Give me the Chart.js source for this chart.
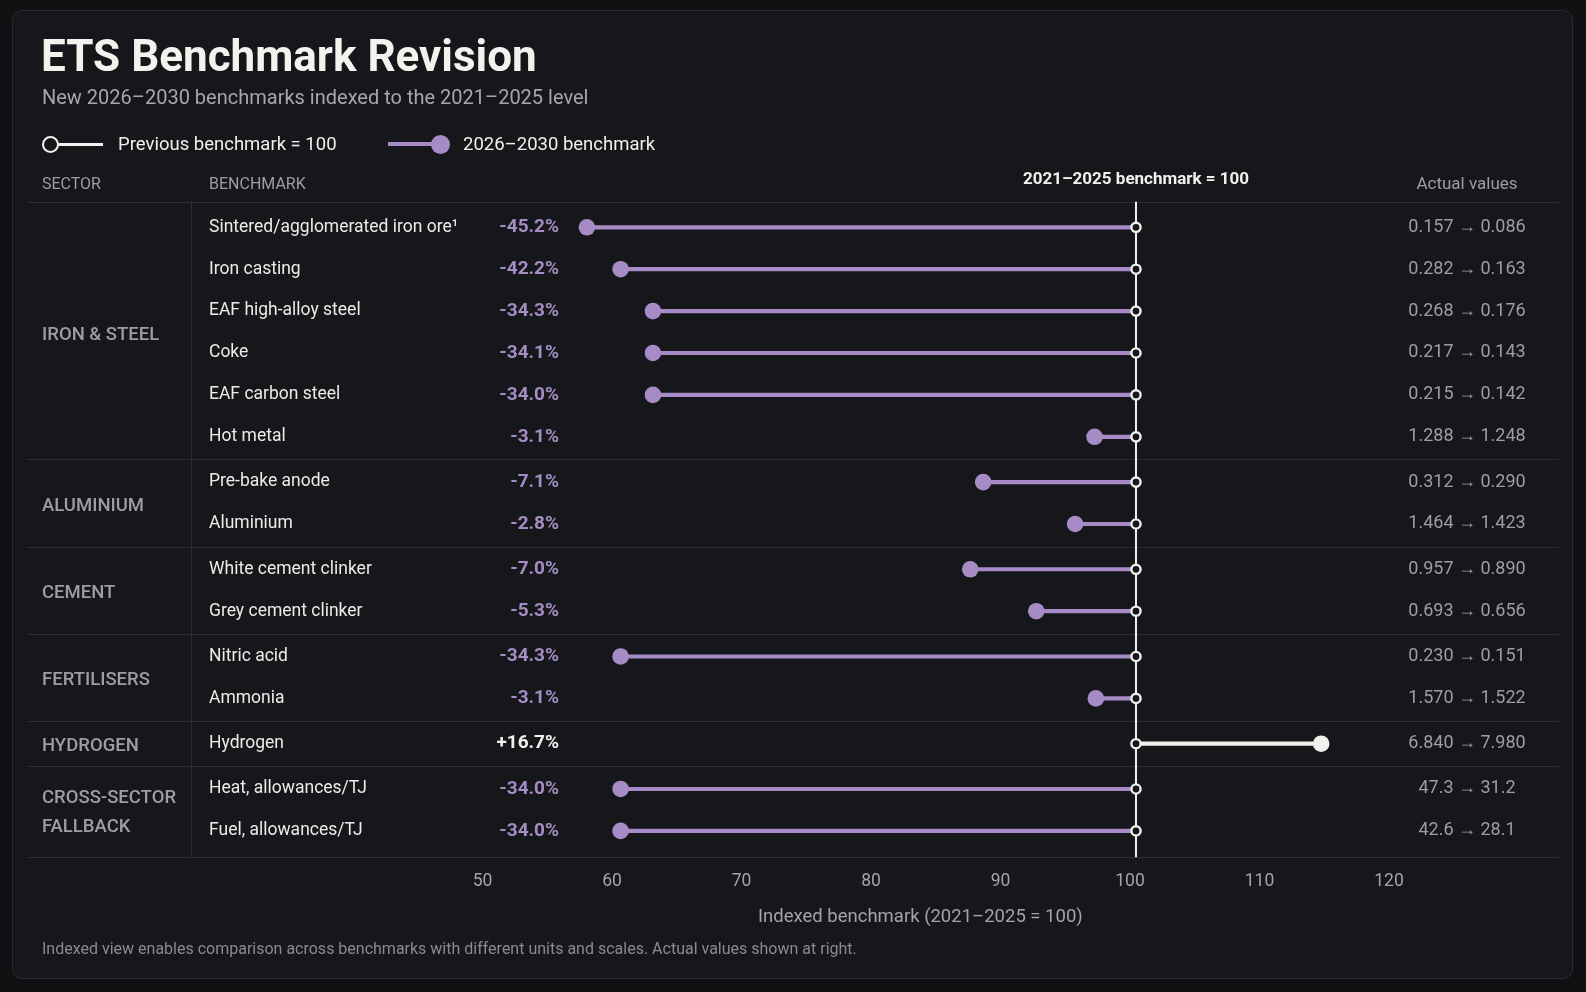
<!DOCTYPE html>
<html>
<head>
<meta charset="utf-8">
<title>ETS Benchmark Revision</title>
<script src="https://cdn.jsdelivr.net/npm/chart.js@4.4.1/dist/chart.umd.min.js"></script>
<style>
  html, body { margin: 0; padding: 0; background: #101113; }
  body { width: 1586px; height: 992px; position: relative; overflow: hidden; font-family: Roboto, 'Noto Sans', sans-serif; }
  .card { position: absolute; left: 12px; top: 10px; width: 1561px; height: 969px; box-sizing: border-box;
          background: #16171a; border: 1px solid #2a2b2f; border-radius: 10px; }
  #chart { position: absolute; left: 0; top: 0; }
  .txt { position: absolute; white-space: nowrap; }
  .title { left: 41px; top: 30px; font-size: 44px; line-height: 52px; font-weight: 700; color: #f3f3ee; }
  .subtitle { left: 42px; top: 85px; font-size: 20px; line-height: 24px; color: #a6a6ac; }
  .legend-text { top: 132px; font-size: 18.5px; line-height: 24px; color: #f0f0ec; }
  .footnote { left: 42px; top: 939px; font-size: 16px; line-height: 20px; color: #8a8a90; }
  .lg-line { position: absolute; }
  .lg-dot { position: absolute; border-radius: 50%; box-sizing: border-box; }
</style>
</head>
<body>
<div class="card"></div>
<canvas id="chart" width="1586" height="992"></canvas>

<div class="txt title">ETS Benchmark Revision</div>
<div class="txt subtitle">New 2026–2030 benchmarks indexed to the 2021–2025 level</div>

<div class="lg-line" style="left:56px; top:142.5px; width:47px; height:3px; background:#f0f0ec;"></div>
<div class="lg-dot" style="left:42px; top:136px; width:17px; height:17px; border:2.5px solid #f0f0ec; background:#16171a;"></div>
<div class="txt legend-text" style="left:118px;">Previous benchmark = 100</div>
<div class="lg-line" style="left:388px; top:142px; width:46px; height:4px; background:#a68bc6;"></div>
<div class="lg-dot" style="left:431px; top:134.5px; width:19px; height:19px; background:#a68bc6;"></div>
<div class="txt legend-text" style="left:463px;">2026–2030 benchmark</div>

<div class="txt footnote">Indexed view enables comparison across benchmarks with different units and scales. Actual values shown at right.</div>

<script>
// Sectors and how many benchmark rows each one holds
const sectors = ['IRON & STEEL', 'ALUMINIUM', 'CEMENT', 'FERTILISERS', 'HYDROGEN', 'CROSS-SECTOR\nFALLBACK'];
const sectorRowCounts = [6, 2, 2, 2, 1, 2];

const benchmarks = [
  'Sintered/agglomerated iron ore¹', 'Iron casting', 'EAF high-alloy steel', 'Coke', 'EAF carbon steel', 'Hot metal',
  'Pre-bake anode', 'Aluminium',
  'White cement clinker', 'Grey cement clinker',
  'Nitric acid', 'Ammonia',
  'Hydrogen',
  'Heat, allowances/TJ', 'Fuel, allowances/TJ'
];

const changeLabels = [
  '-45.2%', '-42.2%', '-34.3%', '-34.1%', '-34.0%', '-3.1%',
  '-7.1%', '-2.8%',
  '-7.0%', '-5.3%',
  '-34.3%', '-3.1%',
  '+16.7%',
  '-34.0%', '-34.0%'
];

// 2021–2025 level is the index base
const previousIndex = 100;
// 2026–2030 benchmark, indexed
const newIndex = [
  57.6, 60.2, 62.7, 62.7, 62.7, 96.8,
  88.2, 95.3,
  87.2, 92.3,
  60.2, 96.9,
  114.3,
  60.2, 60.2
];

const actualBefore = ['0.157', '0.282', '0.268', '0.217', '0.215', '1.288', '0.312', '1.464', '0.957', '0.693', '0.230', '1.570', '6.840', '47.3', '42.6'];
const actualAfter  = ['0.086', '0.163', '0.176', '0.143', '0.142', '1.248', '0.290', '1.423', '0.890', '0.656', '0.151', '1.522', '7.980', '31.2', '28.1'];

const xTicks = [50, 60, 70, 80, 90, 100, 110, 120];

// Colours
const colors = {
  card: '#16171a',
  purple: '#a68bc6',
  purpleText: '#a48cc4',
  white: '#f0f0ec',
  text: '#ebebe7',
  muted: '#9d9ea4',
  rule: '#2c2d31'
};
const fontFamily = "Roboto, 'Noto Sans', sans-serif";

// Row layout: each row gets a slot, with a small extra gap between sectors
const gapRatio = 0.0811;
const rowSector = [];
sectorRowCounts.forEach((n, s) => { for (let k = 0; k < n; k++) rowSector.push(s); });
const rowSlot = benchmarks.map((_, i) => i + rowSector[i] * gapRatio);

const tablePlugin = {
  id: 'benchmarkTable',
  beforeDatasetsDraw(chart) {
    const { ctx, chartArea, scales: { x, y } } = chart;
    ctx.save();
    ctx.strokeStyle = colors.rule;
    ctx.lineWidth = 1;
    const hLine = yy => {
      ctx.beginPath();
      ctx.moveTo(27, Math.round(yy) + 0.5);
      ctx.lineTo(1559, Math.round(yy) + 0.5);
      ctx.stroke();
    };
    hLine(chartArea.top);
    hLine(chartArea.bottom);
    // sector separators
    let start = 0;
    sectorRowCounts.forEach((n, s) => {
      const end = start + n - 1;
      if (s < sectorRowCounts.length - 1) {
        hLine(y.getPixelForValue((rowSlot[end] + rowSlot[end + 1]) / 2));
      }
      start += n;
    });
    // column separator
    ctx.beginPath();
    ctx.moveTo(191.5, chartArea.top);
    ctx.lineTo(191.5, chartArea.bottom);
    ctx.stroke();

    // reference line at the index base
    const x100 = x.getPixelForValue(previousIndex);
    ctx.strokeStyle = colors.white;
    ctx.lineWidth = 2;
    ctx.beginPath();
    ctx.moveTo(x100, chartArea.top);
    ctx.lineTo(x100, chartArea.bottom);
    ctx.stroke();
    ctx.restore();
  },
  afterDraw(chart) {
    const { ctx, scales: { x, y } } = chart;
    ctx.save();
    ctx.textBaseline = 'middle';

    // header row
    ctx.font = `400 16px ${fontFamily}`;
    ctx.fillStyle = colors.muted;
    ctx.textAlign = 'left';
    ctx.fillText('SECTOR', 42, 184.5);
    ctx.fillText('BENCHMARK', 209, 184.5);
    ctx.font = `700 17px ${fontFamily}`;
    ctx.fillStyle = colors.white;
    ctx.textAlign = 'center';
    ctx.fillText('2021–2025 benchmark = 100', x.getPixelForValue(previousIndex), 180);
    ctx.font = `400 17px ${fontFamily}`;
    ctx.fillStyle = colors.muted;
    ctx.fillText('Actual values', 1467, 185);

    // sector labels
    let start = 0;
    ctx.font = `500 18.5px ${fontFamily}`;
    ctx.fillStyle = colors.muted;
    ctx.textAlign = 'left';
    sectors.forEach((name, s) => {
      const n = sectorRowCounts[s];
      const mid = y.getPixelForValue((rowSlot[start] + rowSlot[start + n - 1]) / 2) + 3;
      const lines = name.split('\n');
      lines.forEach((line, k) => {
        ctx.fillText(line, 42, mid + (k - (lines.length - 1) / 2) * 28.3);
      });
      start += n;
    });

    // benchmark rows
    benchmarks.forEach((name, i) => {
      const yy = y.getPixelForValue(rowSlot[i]);
      ctx.textAlign = 'left';
      ctx.font = `400 17.5px ${fontFamily}`;
      ctx.fillStyle = colors.text;
      ctx.fillText(name, 209, yy);

      ctx.textAlign = 'right';
      ctx.font = `700 19px ${fontFamily}`;
      ctx.fillStyle = newIndex[i] > previousIndex ? colors.white : colors.purpleText;
      ctx.fillText(changeLabels[i], 559, yy);

      ctx.textAlign = 'center';
      ctx.font = `400 18px ${fontFamily}`;
      ctx.fillStyle = colors.muted;
      ctx.fillText(actualBefore[i] + ' → ' + actualAfter[i], 1467, yy);
    });
    ctx.restore();
  }
};

const markColor = newIndex.map(v => v > previousIndex ? colors.white : colors.purple);

new Chart(document.getElementById('chart'), {
  type: 'bar',
  data: {
    datasets: [
      {
        type: 'scatter',
        label: '2026–2030 benchmark',
        data: newIndex.map((v, i) => ({ x: v, y: rowSlot[i] })),
        pointRadius: 8.3,
        pointBackgroundColor: markColor,
        pointBorderWidth: 0,
        order: 1
      },
      {
        type: 'scatter',
        label: 'Previous benchmark = 100',
        data: rowSlot.map(s => ({ x: previousIndex, y: s })),
        pointRadius: 4.6,
        pointBorderWidth: 2.4,
        pointBorderColor: colors.white,
        pointBackgroundColor: colors.card,
        order: 2
      },
      {
        type: 'bar',
        label: 'Change',
        data: newIndex.map((v, i) => ({ x: [previousIndex, v], y: rowSlot[i] })),
        backgroundColor: markColor,
        borderWidth: 0,
        borderSkipped: false,
        barThickness: 3.5,
        order: 3
      }
    ]
  },
  options: {
    responsive: false,
    animation: false,
    indexAxis: 'y',
    events: [],
    layout: { padding: { left: 423.75, right: 169, top: 201.7, bottom: 64.7 } },
    plugins: {
      legend: { display: false },
      tooltip: { enabled: false }
    },
    scales: {
      x: {
        type: 'linear',
        position: 'bottom',
        min: 45,
        max: 121.7,
        offset: false,
        afterBuildTicks: axis => { axis.ticks = xTicks.map(v => ({ value: v })); },
        afterFit: axis => { axis.height = 70; },
        grid: { display: false, drawTicks: false, offset: false },
        border: { display: false },
        ticks: {
          color: '#a3a3a8',
          padding: 14,
          labelOffset: -6,
          font: { family: fontFamily, size: 17.5 }
        },
        title: {
          display: true,
          text: 'Indexed benchmark (2021–2025 = 100)',
          color: '#a3a3a8',
          padding: { top: 0, bottom: -1 },
          font: { family: fontFamily, size: 18.5 }
        }
      },
      y: {
        type: 'linear',
        display: false,
        reverse: true,
        offset: false,
        grid: { offset: false },
        min: -0.611,
        max: 15.036
      }
    }
  },
  plugins: [tablePlugin]
});
</script>
</body>
</html>
